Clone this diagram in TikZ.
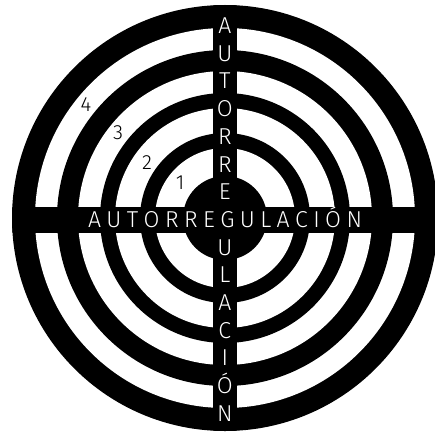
\documentclass[tikz,border=0pt]{standalone}
\usepackage{fontspec}
\newfontfamily\lightsans{Fira Sans Light}
\begin{document}
\begin{tikzpicture}[x=1pt,y=-1pt,
  vletter/.style={text=white,font=\lightsans\fontsize{23}{23}\selectfont,anchor=base,inner sep=0pt},
  hword/.style={text=white,font=\lightsans\fontsize{23}{23}\selectfont,anchor=base,inner sep=0pt},
  ringnum/.style={text=black,font=\lightsans\fontsize{20.5}{20.5}\selectfont,inner sep=0pt}]
\useasboundingbox (0,0) rectangle (435,433);
\coordinate (c) at (225,218);
\begin{scope}
  \clip (0,0) rectangle (435,433);
  \fill[black] (c) circle (213);
  \fill[white] (c) circle (190);
  \fill[black] (c) circle (168);
  \fill[white] (c) circle (147);
  \fill[black] (c) circle (125);
  \fill[white] (c) circle (110);
  \fill[black] (c) circle (85);
  \fill[white] (c) circle (70);
  \fill[black] (c) circle (42);
  \clip (c) circle (213);
  \fill[black] (212.5,0) rectangle (237,433);
  \fill[black] (0,207) rectangle (435,233);
\end{scope}
\foreach \ch/\i in {A/0,U/1,T/2,O/3,R/4,R/5,E/6,U/8,L/9,A/10,C/11,I/12,Ó/13,N/14}{
  \node[vletter] (v\i) at (224.8,33.5+\i*27.7) {\ch};
}
\node[hword] (hw) at (225,227) {\makebox[274pt][s]{A\hfill U\hfill T\hfill O\hfill R\hfill R\hfill E\hfill G\hfill U\hfill L\hfill A\hfill C\hfill I\hfill Ó\hfill N}};
\node[ringnum] (n4) at (86,104.5) {4};
\node[ringnum] (n3) at (118,132.5) {3};
\node[ringnum] (n2) at (147,162.5) {2};
\node[ringnum] (n1) at (180,183) {1};
\end{tikzpicture}
\end{document}
